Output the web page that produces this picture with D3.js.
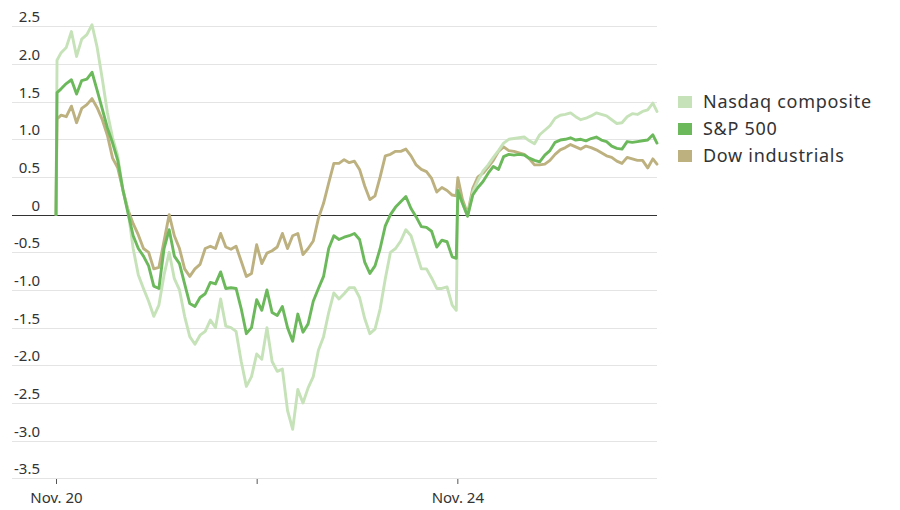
<!DOCTYPE html>
<html><head><meta charset="utf-8">
<script src="https://cdn.jsdelivr.net/npm/d3@7"></script>
<style>body{margin:0;background:#fff} svg{display:block}</style>
</head><body><svg id="c" width="900" height="510"></svg>
<script>
// Session time in trading minutes from the Nov. 20 open (3 sessions of 390 minutes)
const minutes = [0, 2, ...d3.range(10, 771, 10), 778, 781, ...d3.range(790, 1161, 10), 1168];

const nasdaq = [0, 2.05,
  2.15, 2.22, 2.43, 2.10, 2.33, 2.39, 2.52, 2.22, 1.80, 1.35,
  1.02, 0.78, 0.32, 0.05, -0.45, -0.80, -0.98, -1.15, -1.35, -1.20,
  -0.80, -0.50, -0.85, -1.00, -1.35, -1.62, -1.72, -1.60, -1.55, -1.40,
  -1.50, -1.12, -1.48, -1.50, -1.55, -1.95, -2.28, -2.15, -1.85, -1.92,
  -1.50, -1.95, -2.08, -2.05, -2.60, -2.85, -2.32, -2.50, -2.30, -2.15,
  -1.80, -1.62, -1.30, -1.04, -1.12, -1.05, -0.97, -0.97, -1.10, -1.38,
  -1.58, -1.52, -1.25, -0.85, -0.50, -0.45, -0.35, -0.20, -0.28, -0.50,
  -0.72, -0.72, -0.84, -0.98, -0.98, -0.96, -1.20,
  -1.27, 0.30,
  0.15, -0.02, 0.30, 0.45, 0.58, 0.66, 0.76, 0.85, 0.95, 1.00,
  1.01, 1.02, 1.03, 0.98, 0.94, 1.06, 1.12, 1.18, 1.28, 1.32,
  1.33, 1.35, 1.30, 1.26, 1.28, 1.31, 1.35, 1.33, 1.31, 1.26,
  1.21, 1.22, 1.30, 1.34, 1.33, 1.37, 1.39, 1.48,
  1.37];

const sp500 = [0, 1.62,
  1.67, 1.74, 1.79, 1.60, 1.78, 1.80, 1.89, 1.65, 1.40, 1.15,
  0.95, 0.72, 0.33, 0.02, -0.28, -0.45, -0.55, -0.68, -0.95, -0.98,
  -0.45, -0.20, -0.55, -0.65, -0.92, -1.18, -1.22, -1.10, -1.05, -0.90,
  -0.92, -0.76, -0.98, -0.97, -0.98, -1.25, -1.58, -1.50, -1.13, -1.27,
  -1.00, -1.30, -1.34, -1.22, -1.50, -1.68, -1.32, -1.56, -1.45, -1.15,
  -0.98, -0.82, -0.45, -0.28, -0.33, -0.30, -0.28, -0.25, -0.33, -0.63,
  -0.78, -0.68, -0.45, -0.15, 0.00, 0.10, 0.17, 0.24, 0.08, -0.03,
  -0.16, -0.17, -0.22, -0.43, -0.34, -0.36, -0.56,
  -0.58, 0.32,
  0.15, -0.02, 0.26, 0.36, 0.44, 0.55, 0.64, 0.60, 0.77, 0.80,
  0.79, 0.80, 0.79, 0.75, 0.72, 0.70, 0.79, 0.85, 0.96, 0.99,
  1.00, 1.02, 0.99, 1.00, 0.98, 1.01, 1.03, 0.99, 0.97, 0.91,
  0.88, 0.87, 0.97, 0.96, 0.97, 0.98, 0.99, 1.06,
  0.95];

const dow = [0, 1.27,
  1.32, 1.30, 1.44, 1.22, 1.41, 1.46, 1.54, 1.42, 1.26, 1.05,
  0.75, 0.62, 0.33, 0.06, -0.12, -0.27, -0.45, -0.50, -0.72, -0.70,
  -0.35, 0.00, -0.28, -0.45, -0.72, -0.82, -0.72, -0.66, -0.45, -0.42,
  -0.45, -0.25, -0.43, -0.46, -0.42, -0.62, -0.82, -0.78, -0.40, -0.65,
  -0.51, -0.48, -0.43, -0.25, -0.45, -0.28, -0.25, -0.53, -0.45, -0.35,
  -0.05, 0.15, 0.42, 0.68, 0.68, 0.73, 0.69, 0.71, 0.60, 0.38,
  0.20, 0.25, 0.50, 0.78, 0.80, 0.84, 0.84, 0.87, 0.78, 0.66,
  0.60, 0.57, 0.48, 0.30, 0.36, 0.32, 0.26,
  0.25, 0.49,
  0.20, 0.01, 0.35, 0.50, 0.55, 0.63, 0.72, 0.84, 0.90, 0.85,
  0.84, 0.82, 0.80, 0.74, 0.66, 0.66, 0.67, 0.72, 0.80, 0.86,
  0.89, 0.93, 0.90, 0.87, 0.91, 0.89, 0.86, 0.82, 0.78, 0.76,
  0.71, 0.68, 0.76, 0.74, 0.72, 0.72, 0.62, 0.74,
  0.67];

const seriesNames = ["Nasdaq composite", "S&P 500", "Dow industrials"];
const seriesColors = ["#c6e2b8", "#6cb95c", "#bdb180"];
const yTicks = [2.5, 2, 1.5, 1, 0.5, 0, -0.5, -1, -1.5, -2, -2.5, -3, -3.5];
const yTickLabels = ["2.5", "2.0", "1.5", "1.0", "0.5", "0", "-0.5", "-1.0", "-1.5", "-2.0", "-2.5", "-3.0", "-3.5"];
const dayTicks = [0, 390, 780];
const dayLabels = ["Nov. 20", "", "Nov. 24"];

const FONT = "'Noto Sans', sans-serif";
const svg = d3.select("#c");
const x = d3.scaleLinear().domain([0, 1170]).range([56, 658]);
const y = d3.scaleLinear().domain([-3.5, 2.5]).range([478.3, 26.3]);

// gridlines
svg.append("g").selectAll("line").data(yTicks.filter(d => d !== 0)).join("line")
  .attr("x1", 12).attr("x2", 657)
  .attr("y1", d => Math.round(y(d)) + 0.5).attr("y2", d => Math.round(y(d)) + 0.5)
  .attr("stroke", "#e4e4e4").attr("stroke-width", 1);

// y labels
svg.append("g").selectAll("text").data(yTicks).join("text")
  .attr("x", 40).attr("y", d => y(d) - 4)
  .attr("text-anchor", "end")
  .attr("font-family", FONT).attr("font-size", 15).attr("fill", "#333")
  .text((d, i) => yTickLabels[i]);

// x axis
const xAxis = d3.axisBottom(x).tickValues(dayTicks).tickFormat((d, i) => dayLabels[i]).tickSize(5).tickPadding(8);
const gx = svg.append("g").attr("transform", `translate(0,${Math.round(y(-3.5)) + 1})`).call(xAxis);
gx.select(".domain").remove();
gx.selectAll(".tick line").attr("stroke", "#555");
gx.selectAll(".tick text").attr("font-family", FONT).attr("font-size", 15).attr("fill", "#333");

// series
const line = d3.line().x((d, i) => x(minutes[i])).y(d => y(d));
const seriesData = [dow, nasdaq, sp500];
const seriesIdx = [2, 0, 1];

// zero line
svg.append("line").attr("x1", 12).attr("x2", 657)
  .attr("y1", Math.round(y(0)) + 0.5).attr("y2", Math.round(y(0)) + 0.5)
  .attr("stroke", "#333").attr("stroke-width", 1);

svg.append("g").selectAll("path").data(seriesData).join("path")
  .attr("d", d => line(d))
  .attr("fill", "none")
  .attr("stroke", (d, i) => seriesColors[seriesIdx[i]])
  .attr("stroke-width", 2.9)
  .attr("stroke-linejoin", "round").attr("stroke-linecap", "round");

// legend
const lg = svg.append("g").attr("transform", "translate(678,0)");
const items = lg.selectAll("g").data(seriesNames).join("g")
  .attr("transform", (d, i) => `translate(0,${101 + i * 27})`);
items.append("rect").attr("x", 0).attr("y", -5).attr("width", 14).attr("height", 12)
  .attr("fill", (d, i) => seriesColors[i]);
items.append("text").attr("x", 25).attr("y", 6.5)
  .attr("font-family", FONT).attr("font-size", 18).attr("letter-spacing", 0.7).attr("fill", "#333")
  .text(d => d);
</script>
</body></html>
